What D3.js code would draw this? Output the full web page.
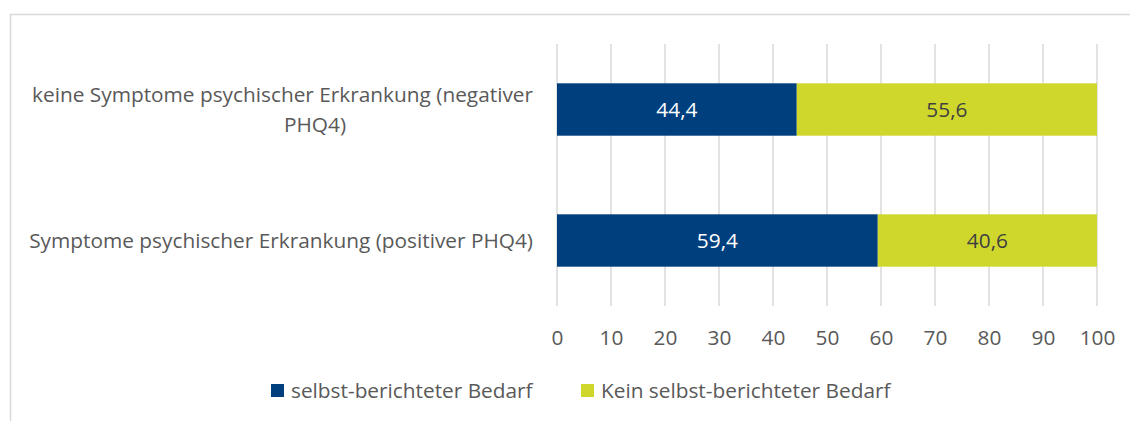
<!DOCTYPE html>
<html>
<head>
<meta charset="utf-8">
<script src="https://cdn.jsdelivr.net/npm/d3@7"></script>
<style>
  body { margin: 0; background: #fff; }
  svg text { font-family: "Open Sans", "Noto Sans", sans-serif; }
</style>
</head>
<body>
<div class="chart"></div>
<script>
var width = 1130, height = 421;

// data
var categories = [
  'keine Symptome psychischer Erkrankung (negativer PHQ4)',
  'Symptome psychischer Erkrankung (positiver PHQ4)'
];
var categoryLines = [
  ['keine Symptome psychischer Erkrankung (negativer', 'PHQ4)'],
  ['Symptome psychischer Erkrankung (positiver PHQ4)']
];
var seriesNames = ['selbst-berichteter Bedarf', 'Kein selbst-berichteter Bedarf'];
var selbst = [44.4, 59.4];
var keinSelbst = [55.6, 40.6];
var xTicks = [0, 10, 20, 30, 40, 50, 60, 70, 80, 90, 100];

var colors = ['#003f7d', '#cfd72d'];
var labelColors = ['#ffffff', '#404040'];

var svg = d3.select('.chart').append('svg')
  .attr('width', width)
  .attr('height', height);

// pick a font size so the long category label is as wide as in the original
var probe = svg.append('text').style('font-size', '20px').text(categoryLines[1][0]);
var fs = 20 * 504 / probe.node().getComputedTextLength();
probe.remove();
var fsPx = fs.toFixed(2) + 'px';

// chart frame (only top and left edges visible)
svg.append('rect')
  .attr('x', 10.5)
  .attr('y', 14.5)
  .attr('width', 1200)
  .attr('height', 500)
  .style('fill', 'none')
  .style('stroke', '#d9d9d9')
  .style('stroke-width', 1.5);

var x = d3.scaleLinear().domain([0, 100]).range([557, 1097]);
var y = d3.scaleBand()
  .domain(categories)
  .range([44, 306])
  .paddingInner(0.6)
  .paddingOuter(0.3);

// gridlines
svg.append('g')
  .selectAll('line')
  .data(xTicks)
  .enter().append('line')
  .attr('x1', function (d) { return x(d); })
  .attr('x2', function (d) { return x(d); })
  .attr('y1', 44)
  .attr('y2', 306)
  .style('stroke', '#d9d9d9')
  .style('stroke-width', 1.5);

// x axis
var xAxis = d3.axisBottom(x).tickValues(xTicks).tickSize(0).tickPadding(0)
  .tickFormat(function (d) { return d; });
var gx = svg.append('g')
  .attr('transform', 'translate(0,338)')
  .call(xAxis);
gx.select('.domain').remove();
gx.selectAll('text')
  .attr('y', 0)
  .attr('dy', '0.35em')
  .style('font-size', fsPx)
  .style('font-family', '"Open Sans", sans-serif')
  .attr('fill', '#595959');

// stacked data
var rows = categories.map(function (c, i) {
  return { cat: c, vals: [selbst[i], keinSelbst[i]] };
});

rows.forEach(function (r) {
  var x0 = 0;
  r.vals.forEach(function (v, j) {
    svg.append('rect')
      .attr('x', x(x0))
      .attr('y', y(r.cat))
      .attr('width', x(x0 + v) - x(x0))
      .attr('height', y.bandwidth())
      .style('fill', colors[j]);
    svg.append('text')
      .attr('x', x(x0 + v / 2))
      .attr('y', y(r.cat) + y.bandwidth() / 2)
      .attr('dy', '0.35em')
      .attr('text-anchor', 'middle')
      .style('font-size', fsPx)
      .attr('fill', labelColors[j])
      .text(String(v.toFixed(1)).replace('.', ','));
    x0 += v;
  });
});

// category labels
categories.forEach(function (c, i) {
  var lines = categoryLines[i];
  var cy = y(c) + y.bandwidth() / 2;
  var lh = 30;
  var t = svg.append('text')
    .style('font-size', fsPx)
    .attr('fill', '#595959');
  lines.forEach(function (l, k) {
    var ty = cy + (k - (lines.length - 1) / 2) * lh;
    t.append('tspan')
      .attr('x', lines.length > 1 && k > 0 ? 315 : 533)
      .attr('text-anchor', lines.length > 1 && k > 0 ? 'middle' : 'end')
      .attr('y', ty)
      .attr('dy', '0.35em')
      .text(l);
  });
});

// legend
var legendX = [271, 581];
seriesNames.forEach(function (n, i) {
  svg.append('rect')
    .attr('x', legendX[i])
    .attr('y', 384)
    .attr('width', 13)
    .attr('height', 13)
    .style('fill', colors[i]);
  svg.append('text')
    .attr('x', legendX[i] + 20)
    .attr('y', 390.5)
    .attr('dy', '0.35em')
    .style('font-size', fsPx)
    .attr('fill', '#595959')
    .text(n);
});
</script>
</body>
</html>
